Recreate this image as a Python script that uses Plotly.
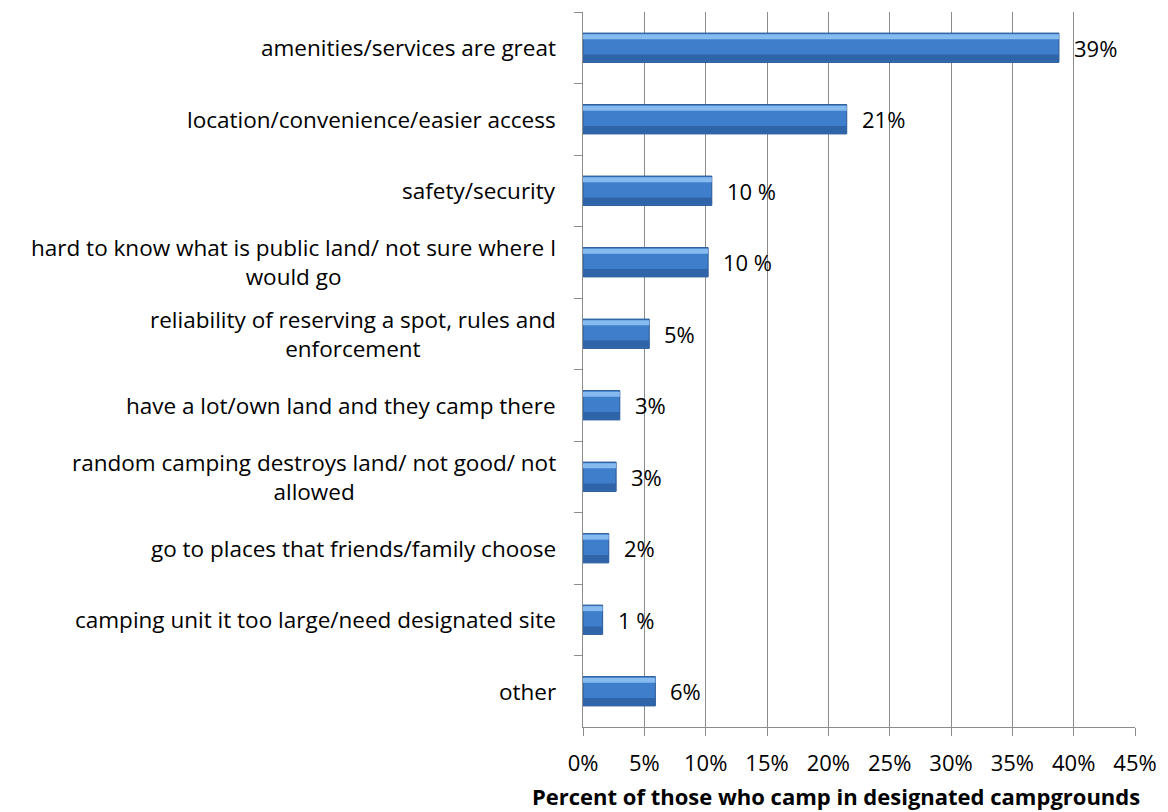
import plotly.graph_objects as go

categories = [
    "amenities/services are great",
    "location/convenience/easier access",
    "safety/security",
    "hard to know what is public land/ not sure where I<br>would go",
    "reliability of reserving a spot, rules and<br>enforcement",
    "have a lot/own land and they camp there",
    "random camping destroys land/ not good/ not<br>allowed",
    "go to places that friends/family choose",
    "camping unit it too large/need designated site",
    "other",
]
values = [38.8, 21.5, 10.5, 10.2, 5.4, 3.0, 2.7, 2.1, 1.6, 5.9]
value_labels = ["39%", "21%", "10 %", "10 %", "5%", "3%", "3%", "2%", "1 %", "6%"]
x_ticks = [0, 5, 10, 15, 20, 25, 30, 35, 40, 45]
x_ticktext = [f"{t}%" for t in x_ticks]
x_title = "Percent of those who camp in designated campgrounds"

FONT = "'Open Sans', 'Noto Sans', sans-serif"
FS = 22
FS_CAT = 22.5

fig = go.Figure()
# main bar body
fig.add_trace(go.Bar(
    y=categories, x=values, orientation="h",
    width=0.41, offset=-0.205,
    marker=dict(color="#3f7ecb", line=dict(color="#2a5894", width=1)),
    hoverinfo="skip", showlegend=False,
))
# darker lower band
fig.add_trace(go.Bar(
    y=categories, x=values, orientation="h",
    width=0.1, offset=0.095,
    marker=dict(color="#2f65a8", line=dict(width=0)),
    hoverinfo="skip", showlegend=False,
))
# light highlight band (bevel effect)
fig.add_trace(go.Bar(
    y=categories, x=values, orientation="h",
    width=0.07, offset=-0.19,
    marker=dict(color="#86bbef", line=dict(width=0)),
    hoverinfo="skip", showlegend=False,
))

# category labels (centered multi-line like Excel)
for c in categories:
    fig.add_annotation(
        x=0, y=c, xref="x", yref="y", text=c, showarrow=False,
        xanchor="right", yanchor="middle", align="center", xshift=-25,
        font=dict(family=FONT, size=FS_CAT, color="#000000"),
    )
# value labels
for c, v, t in zip(categories, values, value_labels):
    fig.add_annotation(
        x=v, y=c, xref="x", yref="y", text=t, showarrow=False,
        xanchor="left", yanchor="middle", xshift=13,
        font=dict(family=FONT, size=FS, color="#000000"),
    )
# axis title (offset left of plot centre, as in the original)
fig.add_annotation(
    x=0.458, y=0, xref="paper", yref="paper", text=f"<b>{x_title}</b>",
    showarrow=False, xanchor="center", yanchor="middle", yshift=-69,
    font=dict(family=FONT, size=FS, color="#000000"),
)

fig.update_layout(
    width=1168, height=812,
    margin=dict(l=575, r=41, t=4, b=93),
    barmode="overlay",
    plot_bgcolor="white", paper_bgcolor="white",
    font=dict(family=FONT, size=FS, color="#000000"),
)
fig.update_xaxes(
    range=[0, 45], tickvals=x_ticks, ticktext=x_ticktext,
    showgrid=True, gridcolor="#8c8c8c", gridwidth=1,
    showline=True, linecolor="#8c8c8c", linewidth=1,
    ticks="outside", ticklen=8, tickcolor="#8c8c8c",
    ticklabelstandoff=9,
    tickfont=dict(family=FONT, size=FS, color="#000000"),
    zeroline=False, mirror=False, automargin=False,
)
fig.update_yaxes(
    categoryorder="array", categoryarray=categories, autorange="reversed",
    showticklabels=False, tickson="boundaries",
    ticks="outside", ticklen=8, tickcolor="#8c8c8c",
    showline=True, linecolor="#8c8c8c", linewidth=1,
    showgrid=False, zeroline=False,
)

fig.write_html("out.html")
